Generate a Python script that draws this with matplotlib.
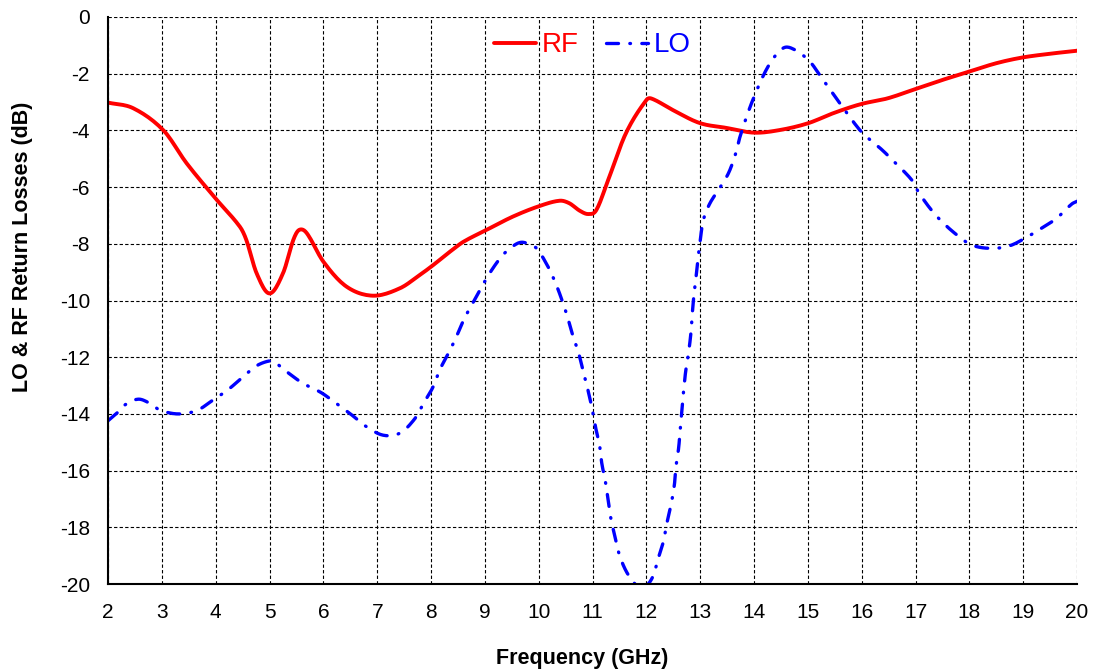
import numpy as np
import matplotlib
matplotlib.use("Agg")
import matplotlib.pyplot as plt

# RF return loss
rf_freq = [2.0, 2.47, 3.03, 3.46, 4.02, 4.45, 4.57, 4.76, 5.0, 5.25, 5.44, 5.55, 5.69,
           6.0, 6.43, 6.92, 7.42, 7.79, 8.04, 8.35, 8.6, 9.03, 9.52, 10.01, 10.39, 10.57,
           10.76, 10.92, 11.07, 11.29, 11.62, 12.0, 12.1, 12.49, 12.99, 13.48, 14.0, 14.47,
           15.0, 15.49, 15.99, 16.48, 17.0, 17.5, 17.99, 18.5, 18.98, 19.48, 20.0]
rf_db = [-3.02, -3.22, -4.0, -5.16, -6.45, -7.4, -7.87, -9.04, -9.75, -9.04, -7.87, -7.51, -7.62,
         -8.63, -9.51, -9.83, -9.57, -9.1, -8.75, -8.28, -7.93, -7.51, -7.04, -6.67, -6.48, -6.57,
         -6.83, -6.95, -6.81, -5.75, -4.1, -2.93, -2.88, -3.28, -3.74, -3.91, -4.08, -3.99,
         -3.75, -3.38, -3.07, -2.87, -2.54, -2.22, -1.93, -1.63, -1.43, -1.30, -1.19]

# LO return loss
lo_freq = [2.0, 2.16, 2.33, 2.56, 2.75, 2.96, 3.3, 3.65, 3.95, 4.22, 4.51, 4.76, 5.04, 5.13,
           5.36, 5.62, 5.96, 6.24, 6.53, 6.8, 7.11, 7.42, 7.69, 7.86, 8.04, 8.16, 8.33, 8.47,
           8.62, 8.81, 8.96, 9.15, 9.35, 9.58, 9.72, 9.95, 10.14, 10.29, 10.42, 10.53, 10.63,
           10.74, 10.82, 10.91, 10.99, 11.05, 11.13, 11.17, 11.24, 11.29, 11.34, 11.42, 11.5,
           11.64, 11.82, 11.97, 12.12, 12.22, 12.32, 12.38, 12.46, 12.52, 12.55, 12.6, 12.63,
           12.66, 12.69, 12.73, 12.78, 12.83, 12.85, 12.88, 12.92, 12.96, 13.0, 13.05, 13.17,
           13.36, 13.53, 13.66, 13.74, 13.97, 14.26, 14.54, 14.76, 15.04, 15.25, 15.44, 15.66,
           15.94, 16.1, 16.38, 16.62, 16.93, 17.05, 17.27, 17.49, 17.77, 18.04, 18.39, 18.73,
           19.0, 19.34, 19.62, 19.9, 20.0]
lo_db = [-14.24, -13.98, -13.66, -13.48, -13.6, -13.86, -14.0, -13.88, -13.51, -13.16, -12.69,
         -12.3, -12.12, -12.22, -12.57, -12.92, -13.25, -13.63, -14.04, -14.45, -14.75, -14.68,
         -14.19, -13.63, -13.04, -12.45, -11.84, -11.28, -10.63, -9.98, -9.45, -8.86, -8.36,
         -8.01, -7.95, -8.14, -8.69, -9.28, -9.92, -10.55, -11.22, -11.84, -12.45, -13.12,
         -13.8, -14.42, -15.1, -15.72, -16.39, -17.04, -17.68, -18.35, -18.98, -19.6, -20.05,
         -20.1, -19.74, -19.1, -18.47, -17.86, -17.18, -16.51, -15.86, -15.19, -14.53, -13.86,
         -13.22, -12.5, -11.9, -11.1, -10.54, -9.87, -9.22, -8.51, -7.89, -7.22, -6.61, -6.04,
         -5.49, -4.81, -4.22, -2.96, -1.75, -1.1, -1.16, -1.58, -2.13, -2.63, -3.22, -3.93,
         -4.24, -4.69, -5.14, -5.75, -6.16, -6.75, -7.22, -7.69, -8.04, -8.16, -8.08, -7.84,
         -7.45, -7.1, -6.6, -6.5]

x_ticks = list(range(2, 21))
y_ticks = list(range(-20, 1, 2))


def smooth(x, y, n=12):
    # cubic hermite through the read points, only to round off the corners
    x = np.asarray(x, float)
    y = np.asarray(y, float)
    m = np.zeros_like(y)
    m[1:-1] = (y[2:] - y[:-2]) / (x[2:] - x[:-2])
    m[0] = (y[1] - y[0]) / (x[1] - x[0])
    m[-1] = (y[-1] - y[-2]) / (x[-1] - x[-2])
    xs, ys = [], []
    for i in range(len(x) - 1):
        h = x[i + 1] - x[i]
        t = np.linspace(0, 1, n, endpoint=False)
        h00 = 2 * t**3 - 3 * t**2 + 1
        h10 = t**3 - 2 * t**2 + t
        h01 = -2 * t**3 + 3 * t**2
        h11 = t**3 - t**2
        xs.append(x[i] + t * h)
        ys.append(h00 * y[i] + h10 * h * m[i] + h01 * y[i + 1] + h11 * h * m[i + 1])
    xs.append([x[-1]])
    ys.append([y[-1]])
    return np.concatenate(xs), np.concatenate(ys)


plt.rcParams['font.family'] = ['Liberation Sans', 'DejaVu Sans']
plt.rcParams['axes.unicode_minus'] = False

fig = plt.figure(figsize=(10.98, 6.69), dpi=100)
ax = fig.add_axes([0.0984, 0.127, 0.8825, 0.8476])

rx, ry = smooth(rf_freq, rf_db)
lx, ly = smooth(lo_freq, lo_db)
ax.plot(rx, ry, color='#ff0000', lw=2.8, label='RF', solid_capstyle='round')
ax.plot(lx, ly, color='#0000ff', lw=2.4, label='LO',
        linestyle=(0, (3.6, 3.4, 0.2, 3.4)), dash_capstyle='round')

ax.set_xlim(2, 20)
ax.set_ylim(-20, 0)
ax.set_xticks(x_ticks)
ax.set_yticks(y_ticks)
ax.tick_params(axis='both', length=0, labelsize=15)
ax.tick_params(axis='x', pad=14)
ax.tick_params(axis='y', pad=13)

ax.grid(True, color='black', linestyle=(0, (3, 2)), linewidth=0.8)
ax.set_axisbelow(True)

ax.spines['top'].set_visible(False)
ax.spines['right'].set_visible(False)
ax.spines['left'].set_linewidth(1.5)
ax.spines['bottom'].set_linewidth(1.5)

ax.set_xlabel('Frequency (GHz)', fontsize=15.5, fontweight='bold')
ax.set_ylabel('LO & RF Return Losses (dB)', fontsize=15.5, fontweight='bold')
ax.xaxis.set_label_coords(0.489, -0.112)
ax.yaxis.set_label_coords(-0.077, 0.594)

ax.legend(loc='center', bbox_to_anchor=(0.5, 0.95), ncol=2, frameon=False,
          fontsize=20, handlelength=1.5, handletextpad=0.2, columnspacing=1.0,
          labelcolor='linecolor')

plt.savefig('out.png', dpi=100)
